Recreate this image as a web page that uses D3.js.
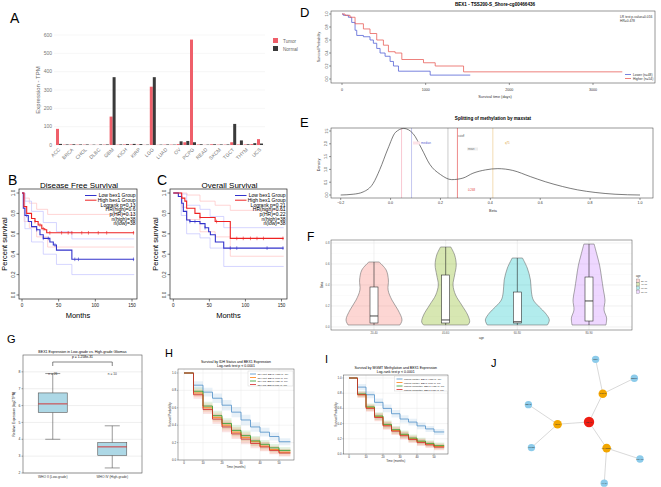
<!DOCTYPE html>
<html><head><meta charset="utf-8">
<script src="https://cdn.jsdelivr.net/npm/d3@7"></script>
<style>body{margin:0;background:#fff;}svg{display:block;font-family:"Liberation Sans",Arial,sans-serif;}</style>
</head><body><svg id="c" width="661" height="487"></svg>
<script>
// ===== Panel A data =====
const cancerTypes = ["ACC","BLCA","BRCA","CESC","CHOL","COAD","DLBC","ESCA","GBM","HNSC","KICH","KIRC","KIRP","LAML","LGG","LIHC","LUAD","LUSC","OV","PAAD","PCPG","PRAD","READ","SARC","SKCM","STAD","TGCT","THCA","THYM","UCEC","UCS"];
const tumorTPM  = [88,2,3,2,2,1,1,2,155,2,3,3,2,1,318,1,2,2,5,15,575,3,1,4,2,2,15,3,3,5,32];
const normalTPM = [6,3,4,3,3,2,3,3,370,3,5,6,5,2,370,2,3,2,20,22,15,4,2,4,3,3,115,25,4,10,8];
const tpmTicks = [0,100,200,300,400,500,600];
const groupsA = ["Tumor","Normal"];

// ===== Panel B data (Disease Free Survival) =====
const bLowT  = [0,1.8,4,8.6,13,20,24.5,29,38,42.7,47,68,153];
const bLowS  = [1,0.85,0.78,0.72,0.67,0.64,0.59,0.555,0.52,0.49,0.44,0.35,0.35];
const bHighT = [0,2.7,6.4,13,17.7,22,27,31,33.7,153];
const bHighS = [1,0.866,0.80,0.75,0.72,0.686,0.65,0.64,0.61,0.61];
const bLowCens  = [6.4,20,29,36,45,72,77,152];
const bHighCens = [17.7,24.5,29,38,54,63,68,81.5,90.6,104,115.5,152];
const bCiT_high = [0,3,10,20,35,153];
const bHighUp   = [1,0.95,0.9,0.84,0.79,0.79];
const bHighLo   = [1,0.72,0.66,0.57,0.47,0.47];
const bCiT_low  = [0,4,13,29,47,68,153];
const bLowUp    = [1,0.92,0.82,0.71,0.62,0.55,0.55];
const bLowLo    = [1,0.65,0.52,0.40,0.30,0.20,0.20];
const bLegend = ["Logrank p=0.13","HR(high)=0.6","p(HR)=0.13","n(high)=38","n(low)=38"];

// ===== Panel C data (Overall Survival) =====
const cLowT  = [0,7,11.6,13.9,18.5,23,37,44,49,51.4,58.3,69.9,153];
const cLowS  = [1,0.966,0.90,0.82,0.735,0.72,0.70,0.66,0.62,0.59,0.52,0.46,0.46];
const cHighT = [0,11.6,16,18.5,30,37,58,79,153];
const cHighS = [1,0.95,0.92,0.85,0.80,0.76,0.72,0.555,0.555];
const cLowCens  = [23,30,44,79,88,130,152];
const cHighCens = [37,60,88,97,107,116,125,152];
const cCiT_high = [0,12,19,37,58,79,153];
const cHighUp   = [1,1,0.98,0.92,0.88,0.83,0.83];
const cHighLo   = [1,0.86,0.74,0.62,0.57,0.38,0.38];
const cCiT_low  = [0,11,18.5,37,51,70,153];
const cLowUp    = [1,0.99,0.88,0.84,0.77,0.66,0.66];
const cLowLo    = [1,0.78,0.60,0.56,0.46,0.28,0.28];
const cLegend = ["Logrank p=0.21","HR(high)=0.61","p(HR)=0.22","n(high)=38","n(low)=38"];

// ===== Panel D data (MethSurv KM, days) =====
const dLowT  = [0,16,76,116,156,176,256,335,375,415,455,515,575,615,675,1054,1533];
const dLowS  = [1,0.98,0.95,0.87,0.75,0.67,0.65,0.60,0.55,0.47,0.40,0.35,0.27,0.20,0.12,0.06,0.06];
const dHighT = [0,36,96,156,256,335,415,495,555,635,715,974,1114,1453,3350];
const dHighS = [1,0.98,0.95,0.85,0.77,0.70,0.60,0.52,0.42,0.40,0.30,0.25,0.20,0.11,0.11];
const dDayTicks = [0,1000,2000,3000];

// ===== Panel E data (density of beta) =====
const eBeta = [-0.2,-0.15,-0.11,-0.07,-0.043,-0.011,0.02,0.053,0.09,0.125,0.157,0.2,0.245,0.29,0.33,0.38,0.43,0.49,0.56,0.62,0.69,0.75,0.82,0.9,1.0];
const eDens = [0,0.03,0.12,0.45,1.0,1.8,2.45,2.6,2.4,1.8,1.2,0.8,0.6,0.66,0.85,0.98,1.03,0.96,0.72,0.52,0.33,0.2,0.1,0.03,0];
const eMarkBeta  = [0.044,0.084,0.23,0.268,0.41];
const eMarkColor = ["#f4a3b4","#9ea3e6","#aaaaaa","#e23a3a","#e9c27e"];
const eBetaTicks = [-0.2,0,0.2,0.4,0.6,0.8,1.0];
const eDensTicks = [0,0.5,1,1.5,2,2.5];

// ===== Panel F data (violins) =====
const fGroups = ["20-40","40-60","60-80","80-90"];
const fColors = ["#F8766D","#7CAE00","#00BFC4","#C77CFF"];
const fViolinV = [
  [0.619,0.543,0.448,0.352,0.257,0.162,0.067,0.019],
  [0.762,0.686,0.590,0.495,0.40,0.305,0.21,0.114,0.048,0.019],
  [0.657,0.562,0.448,0.333,0.257,0.19,0.133,0.067,0.019],
  [0.79,0.686,0.590,0.476,0.352,0.257,0.162,0.086,0.019]];
const fViolinD = [
  [0.16,0.38,0.45,0.44,0.56,0.75,0.875,0.81],
  [0.16,0.28,0.33,0.28,0.23,0.31,0.5,0.69,0.75,0.69],
  [0.16,0.31,0.41,0.44,0.5,0.69,0.875,1.0,0.94],
  [0.16,0.25,0.33,0.39,0.45,0.5,0.47,0.55,0.53]];
const fLo  = [0.019,0.019,0.019,0.019];
const fQ1  = [0.038,0.038,0.038,0.057];
const fMed = [0.105,0.067,0.05,0.248];
const fQ3  = [0.381,0.495,0.333,0.476];
const fHi  = [0.619,0.762,0.657,0.79];
const fTicks = [0,0.2,0.4,0.6,0.8];

// ===== Panel G data (boxplot) =====
const gGroups = ["WHO II (Low-grade)","WHO IV (High-grade)"];
const gLo  = [4.0,2.3];
const gQ1  = [5.6,3.05];
const gMed = [6.1,3.55];
const gQ3  = [6.75,3.8];
const gHi  = [7.9,4.8];
const gN   = ["n = 26","n = 10"];
const gTicks = [2,3,4,5,6,7,8];

// ===== Panel H data =====
const hTimes = [0,5,10,15,20,25,30,35,40,45,50];
const hNames = ["IDH Mut, BEX1 High (n=60)","IDH Mut, BEX1 Low (n=60)","IDH WT, BEX1 High (n=60)","IDH WT, BEX1 Low (n=60)"];
const hSurv = [
  [1.0,0.86,0.78,0.71,0.63,0.55,0.46,0.38,0.32,0.27,0.21],
  [1.0,0.77,0.60,0.49,0.40,0.32,0.26,0.21,0.16,0.12,0.09],
  [1.0,0.79,0.62,0.51,0.42,0.34,0.28,0.22,0.18,0.14,0.11],
  [1.0,0.75,0.58,0.47,0.38,0.30,0.24,0.19,0.15,0.11,0.08]];
const hCI = [0,0.045,0.05,0.055,0.06,0.06,0.06,0.055,0.05,0.045,0.04];

// ===== Panel I data =====
const iTimes = [0,5,10,15,20,25,30,35,40,45,50];
const iNames = ["MGMT Methyl, BEX1 High (n=60)","MGMT Methyl, BEX1 Low (n=60)","MGMT Unmethyl, BEX1 High (n=60)","MGMT Unmethyl, BEX1 Low (n=60)"];
const iSurv = [
  [1.0,0.88,0.78,0.68,0.60,0.53,0.46,0.42,0.37,0.33,0.29],
  [1.0,0.78,0.61,0.49,0.38,0.31,0.25,0.20,0.16,0.13,0.10],
  [1.0,0.79,0.62,0.50,0.39,0.32,0.26,0.21,0.17,0.14,0.11],
  [1.0,0.78,0.60,0.48,0.37,0.30,0.24,0.19,0.15,0.12,0.09]];
const iCI = [0,0.04,0.045,0.05,0.05,0.05,0.05,0.045,0.045,0.04,0.04];
const kmTimeTicks = [0,10,20,30,40,50];
const kmSurvTicks = [0,0.2,0.4,0.6,0.8,1.0];
const kmColors = ["#4f8fc8","#ff7f0e","#2ca02c","#d62728"];

// ===== Panel J data (network) =====
const jNetwork = {name:"BEX1", children:[
  {name:"NGFR", children:[{name:"NGF"},{name:"BDNF"}]},
  {name:"MAGED1", children:[{name:"TRAF6"},{name:"XIAP"}]},
  {name:"OMP", children:[{name:"LMO2"},{name:"BEX2"}]}]};

// ================= drawing =================
const svg = d3.select("#c");
function T(x,y,s,size,o={}){
  const t=svg.append("text").attr("x",x).attr("y",y).text(s).attr("font-size",size).attr("fill",o.fill||"#000");
  if(o.anchor) t.attr("text-anchor",o.anchor);
  if(o.weight) t.attr("font-weight",o.weight);
  if(o.rot!=null) t.attr("transform",`rotate(${o.rot},${x},${y})`);
  return t;
}
function L(x1,y1,x2,y2,col,w,dash){
  const l=svg.append("line").attr("x1",x1).attr("y1",y1).attr("x2",x2).attr("y2",y2).attr("stroke",col).attr("stroke-width",w);
  if(dash) l.attr("stroke-dasharray",dash);
  return l;
}
function survAt(ts,ss,t){let s=ss[0];for(let i=0;i<ts.length;i++){if(ts[i]<=t)s=ss[i];}return s;}

// ---- panel letters ----
[["A",10,23,14],["B",8,185,14],["C",157,185,14],["D",300,17,13],["E",300,127,13],["F",307,241,12],["G",7,343,11],["H",165,357,11],["I",325,363,11],["J",491,367,11]]
  .forEach(d=>T(d[1],d[2],d[0],d[3]));

// ---- Panel A ----
(function(){
  const x = d3.scalePoint(cancerTypes,[59,260]);
  const y = d3.scaleLinear([0,600],[145,35]);
  tpmTicks.forEach(v=>L(54,y(v),265,y(v),"#ededed",0.5));
  cancerTypes.forEach((c,i)=>{
    svg.append("rect").attr("x",x(c)-3).attr("width",3).attr("y",y(tumorTPM[i])).attr("height",y(0)-y(tumorTPM[i])).attr("fill","#ef5f6a");
    svg.append("rect").attr("x",x(c)).attr("width",3).attr("y",y(normalTPM[i])).attr("height",y(0)-y(normalTPM[i])).attr("fill","#3a3a3a");
    if(i%2===0) T(x(c)+1.5,150,c,5,{anchor:"end",fill:"#777",rot:-45});
  });
  tpmTicks.forEach(v=>T(52,y(v)+1.7,v,5,{anchor:"end",fill:"#777"}));
  T(40,90,"Expression - TPM",6,{anchor:"middle",fill:"#666",rot:-90});
  svg.append("rect").attr("x",273).attr("y",38).attr("width",5).attr("height",5).attr("fill","#ef5f6a");
  svg.append("rect").attr("x",273).attr("y",46).attr("width",5).attr("height",5).attr("fill","#3a3a3a");
  T(283,42.5,groupsA[0],4.6,{fill:"#666"});
  T(283,50.5,groupsA[1],4.6,{fill:"#666"});
})();

// ---- Panels B & C ----
function kmR(cfg){
  const x=d3.scaleLinear([0,150],cfg.xr), y=d3.scaleLinear([0,1],[295,193]);
  const line=d3.line().x(d=>x(d[0])).y(d=>y(d[1])).curve(d3.curveStepAfter);
  cfg.ci.forEach(c=>svg.append("path").attr("d",line(d3.zip(c.t,c.s))).attr("fill","none").attr("stroke",c.col).attr("stroke-width",0.6));
  cfg.curves.forEach(c=>{
    svg.append("path").attr("d",line(d3.zip(c.t,c.s))).attr("fill","none").attr("stroke",c.col).attr("stroke-width",1.1);
    c.cens.forEach(t=>{const yy=y(survAt(c.t,c.s,t));L(x(t),yy-1.8,x(t),yy+1.8,c.col,0.6);});
  });
  const [f0,f1]=cfg.fr;
  svg.append("rect").attr("x",f0).attr("y",189).attr("width",f1-f0).attr("height",110).attr("fill","none").attr("stroke","#222").attr("stroke-width",0.7);
  [0,50,100,150].forEach(v=>{L(x(v),299,x(v),301.5,"#222",0.6);T(x(v),306.5,v,4.6,{anchor:"middle",fill:"#222"});});
  [0,0.2,0.4,0.6,0.8,1].forEach(v=>{L(f0,y(v),f0-2.5,y(v),"#222",0.6);T(f0-4,y(v),d3.format(".1f")(v),4.6,{anchor:"middle",fill:"#222",rot:-90});});
  T(f0-12,244,"Percent survival",7.5,{anchor:"middle",rot:-90});
  T((f0+f1)/2,318,"Months",7.5,{anchor:"middle"});
  T((f0+f1)/2+1,188,cfg.title,8,{anchor:"middle"});
  L(cfg.legX,195.5,cfg.legX+11.5,195.5,"#3333cc",1);
  L(cfg.legX,200.2,cfg.legX+11.5,200.2,"#ee2222",1);
  T(cfg.legR,197.2,"Low bex1 Group",5,{anchor:"end"});
  T(cfg.legR,201.9,"High bex1 Group",5,{anchor:"end"});
  cfg.legend.forEach((s,i)=>T(cfg.legR,206.6+i*4.7,s,5,{anchor:"end"}));
}
kmR({xr:[22,132],fr:[19,137],title:"Disease Free Survival",legX:85,legR:135.5,legend:bLegend,
  ci:[{t:bCiT_high,s:bHighUp,col:"#ffb8b8"},{t:bCiT_high,s:bHighLo,col:"#ffb8b8"},{t:bCiT_low,s:bLowUp,col:"#b8b8ff"},{t:bCiT_low,s:bLowLo,col:"#b8b8ff"}],
  curves:[{t:bLowT,s:bLowS,cens:bLowCens,col:"#3333cc"},{t:bHighT,s:bHighS,cens:bHighCens,col:"#ee2222"}]});
kmR({xr:[173.3,281.5],fr:[170,287],title:"Overall Survival",legX:235,legR:285.5,legend:cLegend,
  ci:[{t:cCiT_high,s:cHighUp,col:"#ffb8b8"},{t:cCiT_high,s:cHighLo,col:"#ffb8b8"},{t:cCiT_low,s:cLowUp,col:"#b8b8ff"},{t:cCiT_low,s:cLowLo,col:"#b8b8ff"}],
  curves:[{t:cLowT,s:cLowS,cens:cLowCens,col:"#3333cc"},{t:cHighT,s:cHighS,cens:cHighCens,col:"#ee2222"}]});

// ---- Panel D ----
(function(){
  const x=d3.scaleLinear([0,3000],[342,593]), y=d3.scaleLinear([0,1],[79,14]);
  const line=d3.line().x(d=>x(d[0])).y(d=>y(d[1])).curve(d3.curveStepAfter);
  svg.append("path").attr("d",line(d3.zip(dLowT,dLowS))).attr("fill","none").attr("stroke","#5563d6").attr("stroke-width",0.8);
  svg.append("path").attr("d",line(d3.zip(dHighT,dHighS))).attr("fill","none").attr("stroke","#e8615c").attr("stroke-width",0.8);
  svg.append("rect").attr("x",331).attr("y",11).attr("width",324).attr("height",72).attr("fill","none").attr("stroke","#333").attr("stroke-width",0.5);
  dDayTicks.forEach(v=>{L(x(v),83,x(v),85,"#333",0.5);T(x(v),90.5,v,3.6,{anchor:"middle",fill:"#333"});});
  [0,0.2,0.4,0.6,0.8,1].forEach(v=>{L(331,y(v),329,y(v),"#333",0.5);T(327.5,y(v),d3.format(".1f")(v),3.6,{anchor:"middle",fill:"#333",rot:-90});});
  T(320,47,"Survival Probability",3.6,{anchor:"middle",fill:"#333",rot:-90});
  T(495,97.5,"Survival time (days)",3.8,{anchor:"middle",fill:"#333"});
  T(495,5.5,"BEX1 - TSS200-S_Shore-cg00466436",4.6,{anchor:"middle",weight:"bold"});
  T(620,17.5,"LR test p-value=0.016",3.3,{fill:"#333"});
  T(620,21.5,"HR=0.478",3.3,{fill:"#333"});
  L(625,74.5,631,74.5,"#5563d6",0.8); T(633,75.8,"Lower (n=48)",3.3,{fill:"#333"});
  L(625,78.5,631,78.5,"#e8615c",0.8); T(633,79.8,"Higher (n=54)",3.3,{fill:"#333"});
})();

// ---- Panel E ----
(function(){
  const x=d3.scaleLinear([-0.2,1.0],[340.7,640]), y=d3.scaleLinear([0,2.5],[195,131]);
  eMarkBeta.forEach((b,i)=>L(x(b),128,x(b),198,eMarkColor[i],0.6));
  const line=d3.line().x((d,i)=>x(eBeta[i])).y(d=>y(d)).curve(d3.curveMonotoneX);
  svg.append("path").attr("d",line(eDens)).attr("fill","none").attr("stroke","#444").attr("stroke-width",0.7);
  svg.append("rect").attr("x",331).attr("y",128).attr("width",322).attr("height",70).attr("fill","none").attr("stroke","#333").attr("stroke-width",0.5);
  eBetaTicks.forEach(v=>{L(x(v),198,x(v),200,"#333",0.5);T(x(v),204,d3.format(".1f")(v),3.6,{anchor:"middle",fill:"#333"});});
  eDensTicks.forEach(v=>{L(331,y(v),329,y(v),"#333",0.5);T(327.5,y(v),d3.format(".1f")(v),3.6,{anchor:"middle",fill:"#333",rot:-90});});
  T(320,165,"Density",3.8,{anchor:"middle",fill:"#333",rot:-90});
  T(493,212,"Beta",3.8,{anchor:"middle",fill:"#333"});
  T(493,120,"Splitting of methylation by maxstat",4.6,{anchor:"middle",weight:"bold"});
  svg.append("rect").attr("x",413).attr("y",141.5).attr("width",7).attr("height",3).attr("fill","#fde3e8");
  T(421,144,"median",3,{fill:"#5a63d0"});
  T(458,137,"cutoff",2.6,{fill:"#555"});
  svg.append("rect").attr("x",467).attr("y",147.5).attr("width",11).attr("height",3).attr("fill","#eee");
  T(468,149.8,"mean",2.6,{fill:"#777"});
  T(505,144,"q75",2.8,{fill:"#e0a840"});
  T(468,191,"0.268",2.8,{fill:"#e23a3a"});
})();

// ---- Panel F ----
(function(){
  const step=301/4.2;
  const x=d3.scalePoint(fGroups,[331+0.6*step,632-0.6*step]);
  const y=d3.scaleLinear([0,0.8],[327,243]);
  const w=d3.scaleLinear([0,1],[0,32]);
  [0.1,0.3,0.5,0.7].forEach(v=>L(331,y(v),632,y(v),"#f4f4f4",0.4));
  fTicks.forEach(v=>L(331,y(v),632,y(v),"#e6e6e6",0.6));
  fGroups.forEach(g=>L(x(g),240,x(g),330,"#e6e6e6",0.6));
  fGroups.forEach((g,i)=>{
    const cx=x(g);
    const area=d3.area().y(d=>y(d[0])).x0(d=>cx-w(d[1])).x1(d=>cx+w(d[1])).curve(d3.curveCatmullRom);
    svg.append("path").attr("d",area(d3.zip(fViolinV[i],fViolinD[i]))).attr("fill",fColors[i]).attr("fill-opacity",0.3).attr("stroke","#6f6f6f").attr("stroke-width",0.6);
    L(cx,y(fHi[i]),cx,y(fQ3[i]),"#333",0.6);
    L(cx,y(fLo[i]),cx,y(fQ1[i]),"#333",0.6);
    svg.append("rect").attr("x",cx-4).attr("width",8).attr("y",y(fQ3[i])).attr("height",y(fQ1[i])-y(fQ3[i])).attr("fill","#fff").attr("stroke","#333").attr("stroke-width",0.6);
    L(cx-4,y(fMed[i]),cx+4,y(fMed[i]),"#333",0.9);
    T(cx,334,g,2.8,{anchor:"middle",fill:"#555"});
  });
  svg.append("rect").attr("x",331).attr("y",240).attr("width",301).attr("height",90).attr("fill","none").attr("stroke","#444").attr("stroke-width",0.5);
  fTicks.forEach(v=>T(329.5,y(v)+1,v.toFixed(1),2.8,{anchor:"end",fill:"#555"}));
  T(323,285,"Beta",3,{anchor:"middle",fill:"#333",rot:-90});
  T(481.5,338.5,"age",3,{anchor:"middle",fill:"#333"});
  T(636,277,"age",2.8,{fill:"#333"});
  fGroups.forEach((g,i)=>{
    svg.append("rect").attr("x",636.5).attr("y",279+i*3.7).attr("width",3.2).attr("height",3.2).attr("fill",fColors[i]).attr("fill-opacity",0.3).attr("stroke","#666").attr("stroke-width",0.3);
    T(641,281.6+i*3.7,g,2.4,{fill:"#333"});
  });
})();

// ---- Panel G ----
(function(){
  const x=d3.scalePoint(gGroups,[23,142]).padding(0.5);
  const y=d3.scaleLinear([2,9],[473,355]);
  gTicks.forEach(v=>L(23,y(v),142,y(v),"#dedede",0.5));
  gGroups.forEach((g,i)=>{
    const cx=x(g), hw=14.5;
    L(cx,y(gHi[i]),cx,y(gQ3[i]),"#555",0.6);
    L(cx,y(gLo[i]),cx,y(gQ1[i]),"#555",0.6);
    L(cx-7.5,y(gHi[i]),cx+7.5,y(gHi[i]),"#555",0.6);
    L(cx-7.5,y(gLo[i]),cx+7.5,y(gLo[i]),"#555",0.6);
    svg.append("rect").attr("x",cx-hw).attr("width",2*hw).attr("y",y(gQ3[i])).attr("height",y(gQ1[i])-y(gQ3[i])).attr("fill","#add8e6").attr("stroke","#555").attr("stroke-width",0.6);
    L(cx-hw,y(gMed[i]),cx+hw,y(gMed[i]),"#d62728",0.9);
    T(cx,375,gN[i],3.2,{anchor:"middle",fill:"#333"});
    T(cx,477.5,g,3.3,{anchor:"middle",fill:"#333"});
  });
  svg.append("rect").attr("x",23).attr("y",355).attr("width",119).attr("height",118).attr("fill","none").attr("stroke","#555").attr("stroke-width",0.6);
  gTicks.forEach(v=>{L(23,y(v),21.5,y(v),"#555",0.5);T(20.5,y(v)+1.2,v,3.4,{anchor:"end",fill:"#333"});});
  const [x1,x2]=[x(gGroups[0]),x(gGroups[1])];
  svg.append("path").attr("d",`M${x1},366V362H${x2}V366`).attr("fill","none").attr("stroke","#333").attr("stroke-width",0.6);
  T(82.5,353,"BEX1 Expression in Low-grade vs. High-grade Gliomas",3.6,{anchor:"middle"});
  T(82.5,358,"p = 1.258e-31",3.4,{anchor:"middle"});
  T(15,414,"Relative Expression (log2 TPM)",3.2,{anchor:"middle",rot:-90});
})();

// ---- Panels H & I ----
function kmPy(cfg){
  const x=d3.scaleLinear([0,50],cfg.xr), y=d3.scaleLinear([0,1],cfg.yr);
  const [fx0,fx1,fy0,fy1]=cfg.frame;
  kmTimeTicks.forEach(v=>L(x(v),fy0,x(v),fy1,"#e2e2e2",0.4));
  kmSurvTicks.forEach(v=>L(fx0,y(v),fx1,y(v),"#e2e2e2",0.4));
  cfg.surv.forEach((s,k)=>{
    const pts=cfg.times.map((t,i)=>[t,s[i],cfg.ci[i]]);
    pts.push([cfg.tEnd,s[s.length-1],cfg.ci[cfg.ci.length-1]]);
    const area=d3.area().x(d=>x(d[0])).y0(d=>y(Math.max(0,d[1]-d[2]))).y1(d=>y(Math.min(1,d[1]+d[2]))).curve(d3.curveStepAfter);
    svg.append("path").attr("d",area(pts)).attr("fill",kmColors[k]).attr("fill-opacity",0.13);
  });
  cfg.surv.forEach((s,k)=>{
    const pts=cfg.times.map((t,i)=>[t,s[i]]);
    pts.push([cfg.tEnd,s[s.length-1]]);
    const line=d3.line().x(d=>x(d[0])).y(d=>y(d[1])).curve(d3.curveStepAfter);
    svg.append("path").attr("d",line(pts)).attr("fill","none").attr("stroke",kmColors[k]).attr("stroke-width",0.8);
  });
  svg.append("rect").attr("x",fx0).attr("y",fy0).attr("width",fx1-fx0).attr("height",fy1-fy0).attr("fill","none").attr("stroke","#555").attr("stroke-width",0.5);
  kmTimeTicks.forEach(v=>{L(x(v),fy1,x(v),fy1+1.2,"#555",0.4);T(x(v),fy1+4,v,2.9,{anchor:"middle",fill:"#333"});});
  kmSurvTicks.forEach(v=>{L(fx0,y(v),fx0-1.2,y(v),"#555",0.4);T(fx0-2,y(v)+1,v.toFixed(1),2.9,{anchor:"end",fill:"#333"});});
  const cx=(fx0+fx1)/2;
  T(cx,fy0-6,cfg.title,3.5,{anchor:"middle"});
  T(cx,fy0-2,"Log-rank test p < 0.0001",3.5,{anchor:"middle"});
  T(cx,fy1+7.5,"Time (months)",3,{anchor:"middle",fill:"#333"});
  T(fx0-7,(fy0+fy1)/2,"Survival Probability",2.9,{anchor:"middle",fill:"#333",rot:-90});
  const [lx,ly,lw]=cfg.leg;
  svg.append("rect").attr("x",lx).attr("y",ly).attr("width",lw).attr("height",15).attr("fill","#fff").attr("fill-opacity",0.85).attr("stroke","#ccc").attr("stroke-width",0.4);
  cfg.names.forEach((n,k)=>{L(lx+2,ly+3+k*3.5,lx+8,ly+3+k*3.5,kmColors[k],0.8);T(lx+9.5,ly+4+k*3.5,n,2.5,{fill:"#222"});});
}
kmPy({xr:[184,279],yr:[460,373],frame:[178,294,369,460],times:hTimes,surv:hSurv,ci:hCI,tEnd:56,
  title:"Survival by IDH Status and BEX1 Expression",names:hNames,leg:[248,371,45]});
kmPy({xr:[349,434],yr:[454,378],frame:[343.5,448,375,454],times:iTimes,surv:iSurv,ci:iCI,tEnd:56,
  title:"Survival by MGMT Methylation and BEX1 Expression",names:iNames,leg:[394.5,376,53]});

// ---- Panel J ----
(function(){
  const root=d3.hierarchy(jNetwork);
  d3.tree().size([2*Math.PI,63]).separation((a,b)=>a.parent===b.parent?1:2)(root);
  const off=-124*Math.PI/180, cx=589, cy=422;
  const pos=n=>[cx+n.y*Math.cos(n.x+off), cy+n.y*Math.sin(n.x+off)];
  root.links().forEach(l=>{const a=pos(l.source),b=pos(l.target);L(a[0],a[1],b[0],b[1],"#c9c9c9",0.7);});
  root.descendants().forEach(n=>{
    const [px,py]=n.depth===0?[cx,cy]:pos(n);
    const r=[5.2,4.3,3.7][n.depth], col=["#ee1c12","#f2a600","#8ccbea"][n.depth];
    svg.append("circle").attr("cx",px).attr("cy",py).attr("r",r).attr("fill",col);
    T(px,py+0.8,n.data.name,2.3,{anchor:"middle",fill:"#333"});
  });
})();
</script></body></html>
